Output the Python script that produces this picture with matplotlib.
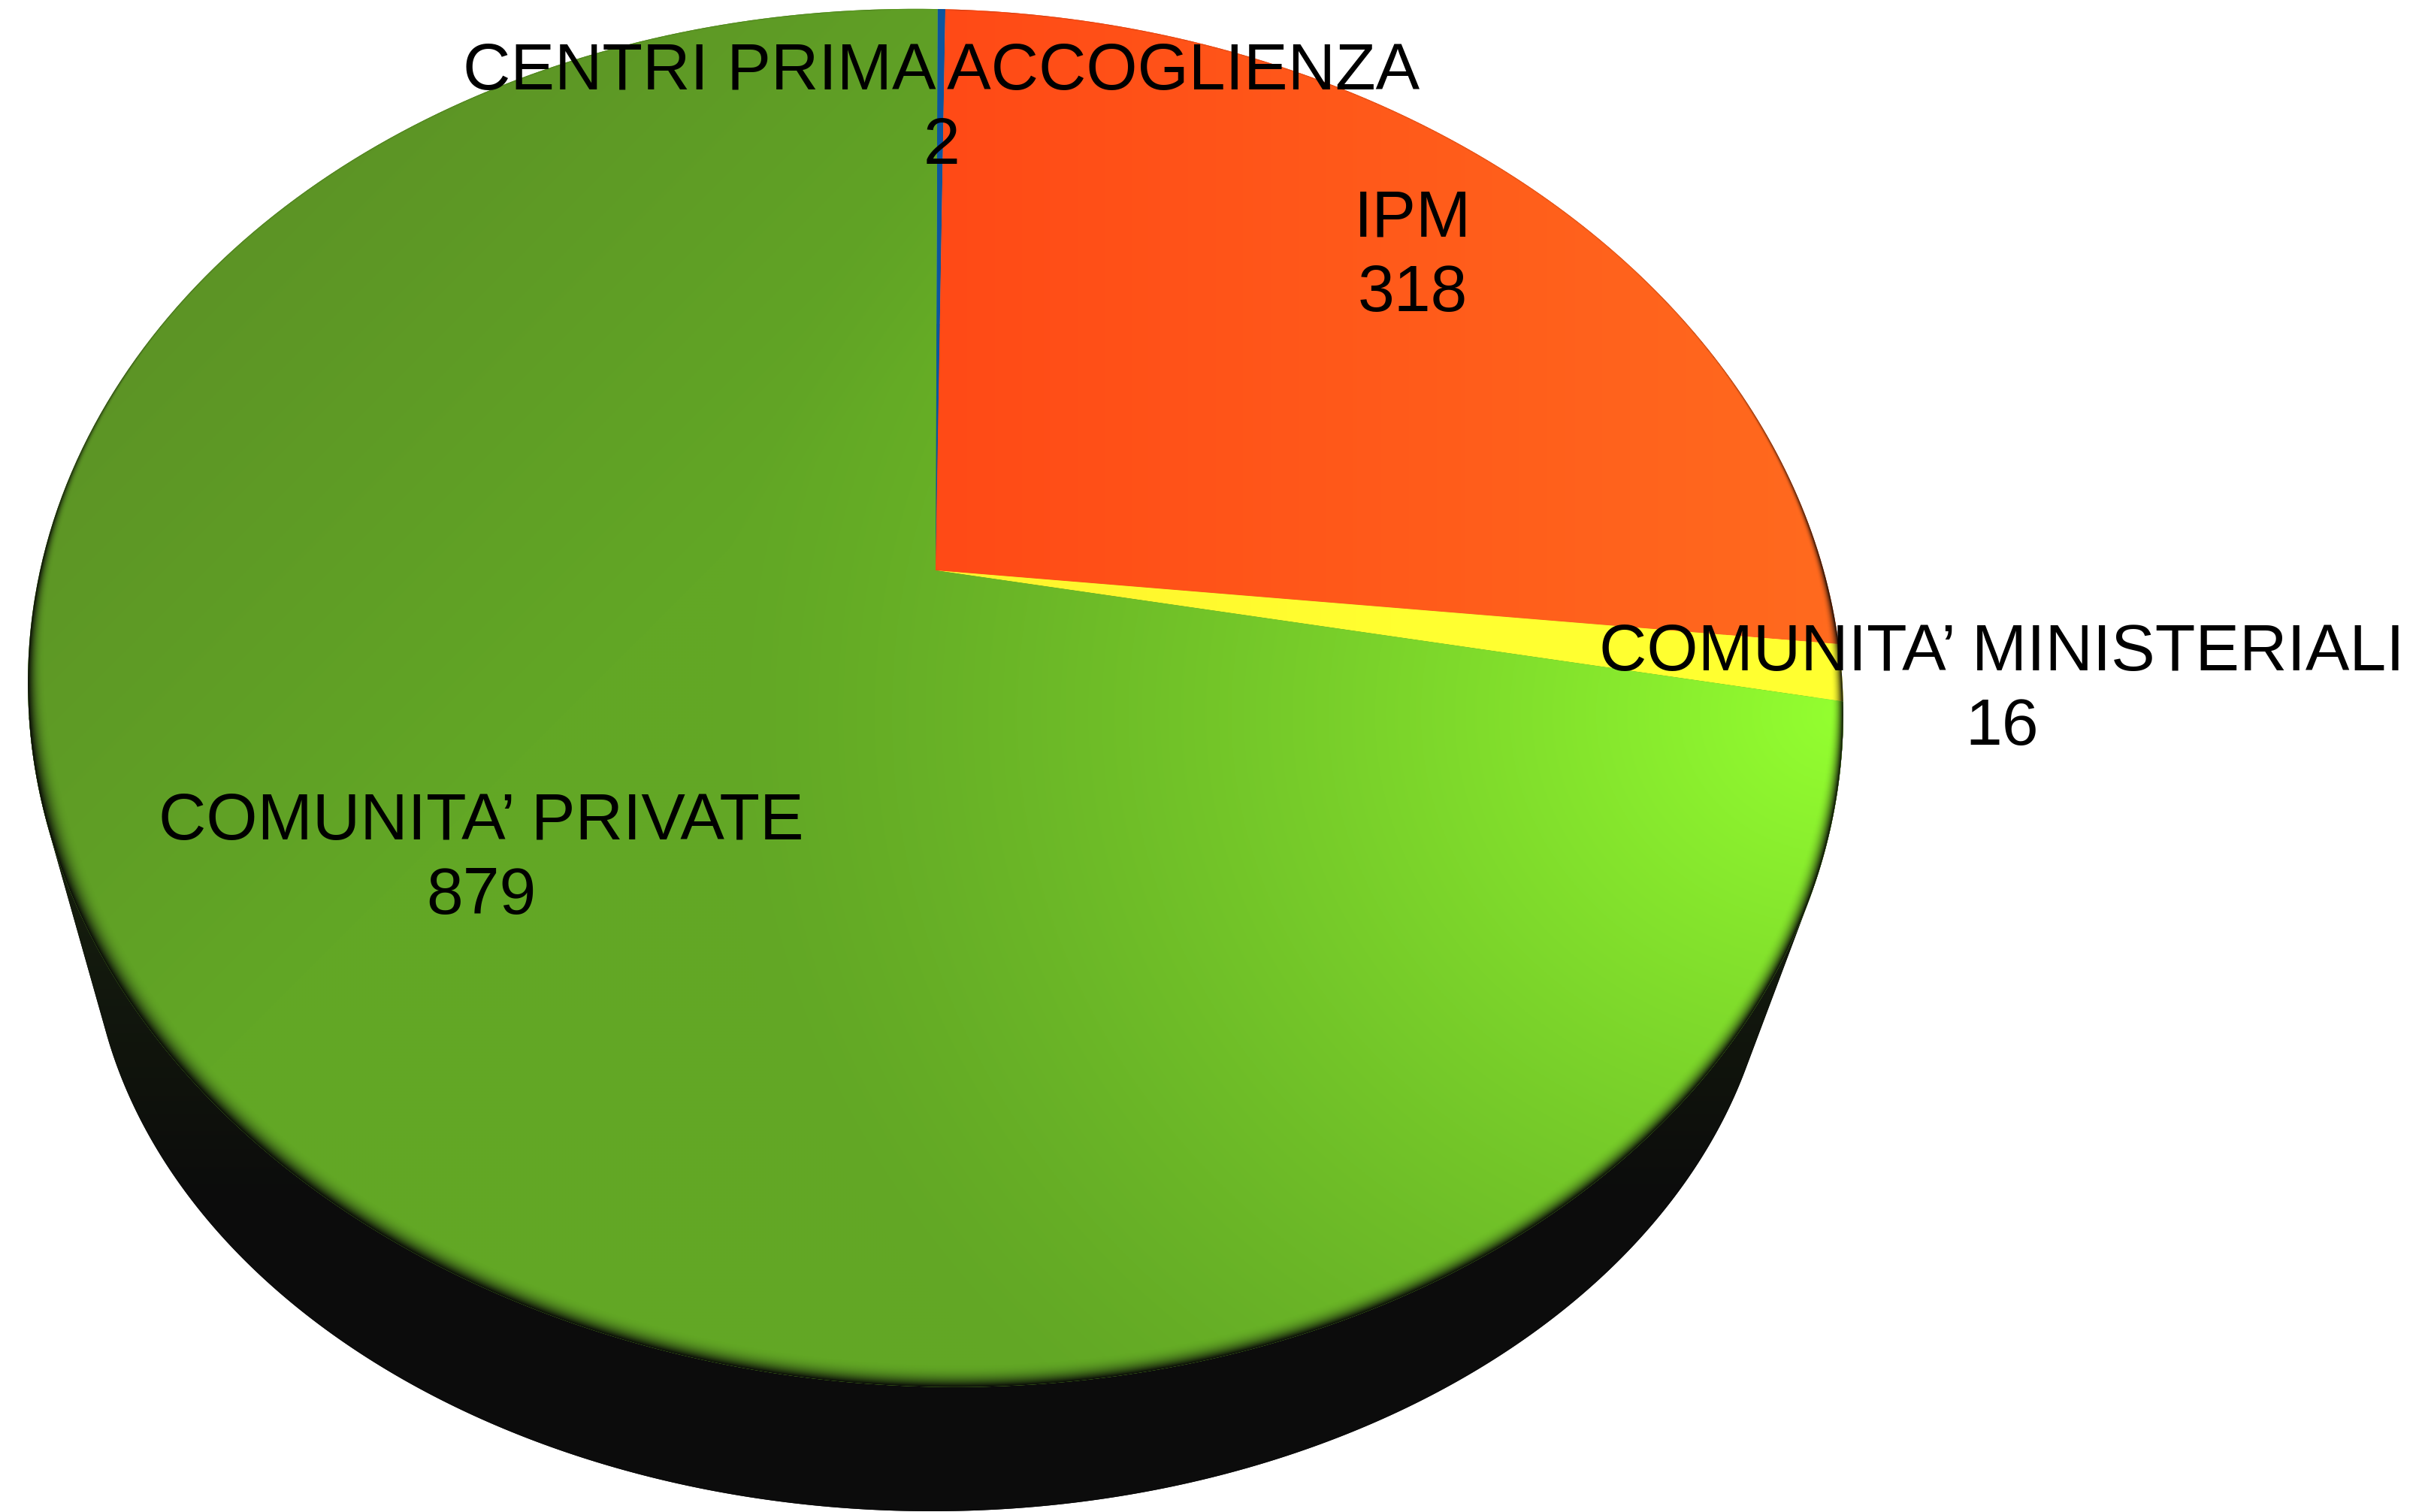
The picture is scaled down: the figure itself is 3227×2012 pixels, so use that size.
import matplotlib

matplotlib.use("Agg")
import matplotlib.pyplot as plt
import matplotlib.transforms as mtransforms
from matplotlib.patches import Polygon
from matplotlib.path import Path
import numpy as np

categories = ["CENTRI PRIMA ACCOGLIENZA", "IPM", "COMUNITA’ MINISTERIALI", "COMUNITA’ PRIVATE"]
values = [2, 318, 16, 879]

WIDTH, HEIGHT = 3227, 2012
CX, CY = 1245.0, 759.0   # where the pie centre lands in the picture
SCALE_X, SCALE_Y, TILT = 1187.0, 885.3, 0.1852
SHEAR = 20.0             # the disc leans a little, right side lower
LOW_CX, LOW_CY, LOW_A, LOW_B = 1240.0, 1221.0, 1120.0, 790.0   # lower rim of the side


class PerspectivePie(mtransforms.Transform):
    """Lays the flat unit pie down on the tilted plane, output in picture pixels."""

    input_dims = 2
    output_dims = 2
    is_separable = False

    def transform_non_affine(self, values):
        values = np.asarray(values, dtype=float)
        w = 1.0 + TILT * values[:, 1]
        return np.column_stack(
            [
                CX + SCALE_X * values[:, 0] / w,
                CY + (SHEAR * values[:, 0] - SCALE_Y * values[:, 1]) / w,
            ]
        )

    def transform_path_non_affine(self, path):
        pts = [curve(np.linspace(0, 1, 60)) for curve, _ in path.iter_bezier()]
        return Path(self.transform_non_affine(np.vstack(pts)))


def convex_hull(points):
    pts = sorted(map(tuple, points))

    def half(seq):
        out = []
        for p in seq:
            while len(out) > 1 and (
                (out[-1][0] - out[-2][0]) * (p[1] - out[-2][1])
                - (out[-1][1] - out[-2][1]) * (p[0] - out[-2][0])
            ) <= 0:
                out.pop()
            out.append(p)
        return out[:-1]

    return np.array(half(pts) + half(pts[::-1]))


def hex_rgb(code):
    return np.array(matplotlib.colors.to_rgb(code))


def mix(a, b, t):
    return hex_rgb(a) + (hex_rgb(b) - hex_rgb(a)) * t[..., None]


step = 2
X, Y = np.meshgrid(np.arange(0, WIDTH, step) + 1.0, np.arange(0, HEIGHT, step) + 1.0)
extent = (0, WIDTH, HEIGHT, 0)

# inverse of the perspective, to know where each pixel sits on the disc
q = (CY - Y) + SHEAR * (X - CX) / SCALE_X
py = q / (SCALE_Y - TILT * q)
px = (X - CX) * (1.0 + TILT * py) / SCALE_X
pr = np.hypot(px, py)

d = np.hypot((X - 2450) / 1500, (Y - 950) / 1300)
bright = np.clip(1 - d, 0, 1) ** 1.3
dark = np.clip(((900 - X) + (800 - Y)) / 1500, 0, 1)
green_rgb = mix("#62A725", "#94FF30", bright)
green_rgb = green_rgb + (hex_rgb("#5A8C26") - green_rgb) * dark[..., None]
red_rgb = mix("#FF4A16", "#FF6C1F", np.clip((X - 1250) / 1250, 0, 1))
yellow_rgb = mix("#FFF22C", "#FFFF30", np.clip((X - 1250) / 600, 0, 1))
blue_rgb = mix("#0C559E", "#0C559E", np.zeros_like(X))
fills = [blue_rgb, red_rgb, yellow_rgb, green_rgb]
side_rgb = mix("#161F0E", "#0C0C0C", np.clip((Y - 1150) / 450, 0, 1))

# soft dark bevel round the rim, wider towards the viewer, faint at the back
bevel_w = (0.002 + 0.022 * np.clip((0.35 - py) / 0.7, 0, 1)) * (1 - 0.25 * np.clip(px, 0, 1))
bevel = np.clip(1 - (1 - pr) / bevel_w, 0, 1) ** 2.4
bevel = bevel * (0.25 + 0.75 * np.clip((0.5 - py) / 0.5, 0, 1))
bevel_rgba = np.dstack([np.full(X.shape + (3,), 0.03), bevel])

fig = plt.figure(figsize=(WIDTH / 100, HEIGHT / 100), dpi=100, facecolor="white")
ax = fig.add_axes([0, 0, 1, 1])

persp = PerspectivePie()
wedges, _ = ax.pie(values, startangle=89.85, counterclock=False, radius=1.0, colors=["#0C559E", "#FF5A1A", "#FFFF30", "#62A725"])

theta = np.linspace(0, 2 * np.pi, 720, endpoint=False)
top_rim = persp.transform_non_affine(np.column_stack([np.cos(theta), np.sin(theta)]))
low_rim = np.column_stack([LOW_CX + LOW_A * np.cos(theta), LOW_CY + LOW_B * np.sin(theta)])
# only the front of the top rim, so no dark fringe shows along the back edge
front_rim = top_rim[top_rim[:, 1] > 950]
side = Polygon(convex_hull(np.vstack([front_rim, low_rim])), closed=True, facecolor="#0C0C0C", edgecolor="none", zorder=0.5)
ax.add_patch(side)
side_im = ax.imshow(side_rgb, extent=extent, interpolation="bilinear", zorder=0.6)
side_im.set_clip_path(side)

for i, wedge in enumerate(wedges):
    wedge.set_transform(persp + ax.transData)
    wedge.set_edgecolor("none")
    wedge.set_zorder(1)
    im = ax.imshow(fills[i], extent=extent, interpolation="bilinear", zorder=1.5 + i * 0.01)
    im.set_clip_path(wedge)
    shade = ax.imshow(bevel_rgba, extent=extent, interpolation="bilinear", zorder=1.6 + i * 0.01)
    shade.set_clip_path(wedge)

ax.set_aspect("auto")
ax.set_xlim(0, WIDTH)
ax.set_ylim(HEIGHT, 0)
ax.axis("off")

label_xy = [(1253, 146), (1880, 342), (2664, 919), (640, 1144)]
for name, value, (lx, ly) in zip(categories, values, label_xy):
    ax.text(
        lx, ly, f"{name}\n{value}", ha="center", va="center", multialignment="center",
        family="Liberation Sans", fontsize=63.2, color="black", linespacing=1.29, zorder=5,
    )

fig.savefig("out.png", dpi=100)
plt.close(fig)
